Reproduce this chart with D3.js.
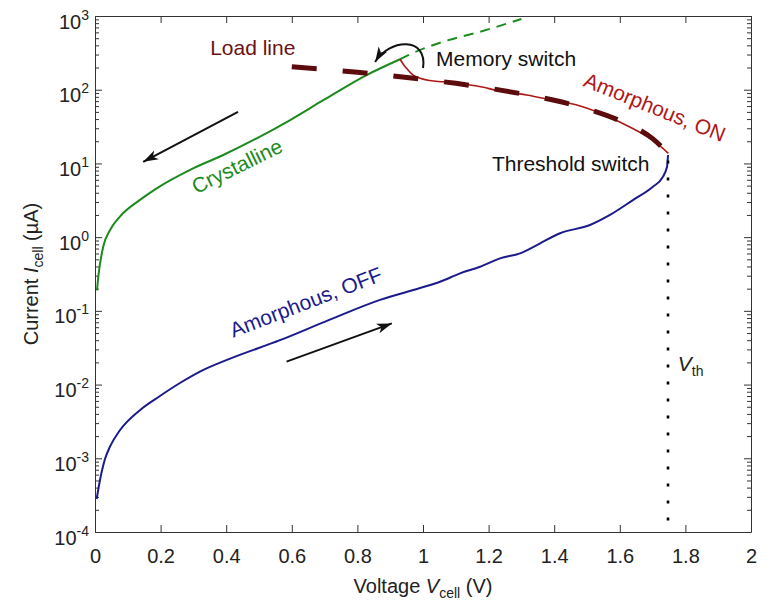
<!DOCTYPE html>
<html>
<head>
<meta charset="utf-8">
<script src="https://cdn.jsdelivr.net/npm/d3@7"></script>
<style>
  body { margin: 0; background: #fff; }
  text { font-family: "Liberation Sans", Arial, sans-serif; fill: #222; }
  .axis path, .axis line { stroke: #333; stroke-width: 1; }
</style>
</head>
<body>
<svg id="chart" width="769" height="600"></svg>
<script>
// --- Data (V in volts, I in µA) ---
const voltTicks = [0, 0.2, 0.4, 0.6, 0.8, 1, 1.2, 1.4, 1.6, 1.8, 2];
const decades = [-4, -3, -2, -1, 0, 1, 2, 3];

const amorphousOff = [
  [0.005, 2.8e-4], [0.015, 5.0e-4], [0.030, 9.6e-4], [0.046, 1.45e-3], [0.076, 2.4e-3],
  [0.137, 4.5e-3], [0.198, 7.0e-3], [0.259, 1.05e-2], [0.320, 1.5e-2], [0.412, 2.25e-2],
  [0.564, 4.0e-2], [0.716, 7.6e-2], [0.869, 0.141], [0.991, 0.204], [1.052, 0.248],
  [1.113, 0.323], [1.174, 0.396], [1.235, 0.515], [1.296, 0.603], [1.357, 0.824],
  [1.418, 1.13], [1.509, 1.46], [1.570, 2.0], [1.640, 3.18], [1.701, 4.83],
  [1.729, 6.34], [1.744, 9.0], [1.747, 13.0]
];

const crystalline = [
  [0.006, 0.19], [0.010, 0.29], [0.025, 0.74], [0.046, 1.25], [0.076, 1.9],
  [0.137, 3.2], [0.188, 4.6], [0.290, 8.2], [0.391, 13.0], [0.493, 21.9],
  [0.595, 38.8], [0.696, 72], [0.828, 158], [0.930, 259]
];

const crystallineExt = [
  [0.930, 259], [0.970, 316], [1.070, 460], [1.174, 612], [1.300, 910]
];

const amorphousOn = [
  [0.930, 259], [0.942, 215], [0.950, 195], [0.970, 158], [0.991, 143],
  [1.021, 133], [1.062, 128], [1.164, 112], [1.245, 94], [1.316, 85],
  [1.397, 72], [1.469, 62], [1.540, 48], [1.641, 29.5], [1.702, 20.5], [1.748, 13.7]
];

const loadLine = [
  [0.60, 205], [0.70, 188], [0.80, 172], [0.90, 155], [1.00, 138], [1.10, 122],
  [1.20, 105], [1.30, 88], [1.40, 72], [1.50, 55], [1.60, 38], [1.70, 21.7], [1.747, 13.8]
];

const vth = 1.747;

// --- Layout ---
const width = 769, height = 600;
const margin = { top: 16, right: 18, bottom: 68, left: 95 };
const x0 = margin.left, x1 = width - margin.right;
const y0 = height - margin.bottom, y1 = margin.top;

const svg = d3.select("#chart");
const x = d3.scaleLinear().domain([0, 2]).range([x0, x1]);
const y = d3.scaleLog().domain([1e-4, 1e3]).range([y0, y1]);

const majors = decades.map(p => Math.pow(10, p));
const minors = [];
decades.slice(0, -1).forEach(p => { for (let k = 2; k <= 9; k++) minors.push(k * Math.pow(10, p)); });

const defs = svg.append("defs");
defs.append("marker").attr("id", "head").attr("viewBox", "0 -6 16 12")
  .attr("refX", 15).attr("refY", 0).attr("markerWidth", 16).attr("markerHeight", 12)
  .attr("markerUnits", "userSpaceOnUse").attr("orient", "auto")
  .append("path").attr("d", "M0,-5 L15,0 L0,5 L4,0 Z").attr("fill", "#111");

// --- Axes (ticks point inward) ---
const fmtV = d => String(+d.toFixed(1));
svg.append("g").attr("class", "axis").attr("transform", `translate(0,${y0})`)
  .call(d3.axisBottom(x).tickValues(voltTicks).tickSizeInner(-7).tickSizeOuter(0).tickPadding(17).tickFormat(fmtV))
  .call(g => g.selectAll("text").attr("font-size", 20).attr("fill", "#222"));
svg.append("g").attr("class", "axis").attr("transform", `translate(0,${y1})`)
  .call(d3.axisTop(x).tickValues(voltTicks).tickSizeInner(-7).tickSizeOuter(0).tickFormat(""));

[[d3.axisLeft, x0], [d3.axisRight, x1]].forEach(([ax, px]) => {
  svg.append("g").attr("class", "axis").attr("transform", `translate(${px},0)`)
    .call(ax(y).tickValues(majors).tickSizeInner(-7).tickSizeOuter(0).tickFormat(""));
  svg.append("g").attr("class", "axis").attr("transform", `translate(${px},0)`)
    .call(ax(y).tickValues(minors).tickSizeInner(-4).tickSizeOuter(0).tickFormat(""))
    .call(g => g.select(".domain").remove());
});

// y tick labels as 10^n
decades.forEach(p => {
  const t = svg.append("text").attr("x", x0 - 6).attr("y", y(Math.pow(10, p)) + 12.5)
    .attr("text-anchor", "end").attr("font-size", 20);
  t.append("tspan").text("10");
  t.append("tspan").attr("dy", -9).attr("font-size", 14).text(String(p));
});

// axis titles
const xl = svg.append("text").attr("x", (x0 + x1) / 2).attr("y", 593)
  .attr("text-anchor", "middle").attr("font-size", 20);
xl.append("tspan").text("Voltage ");
xl.append("tspan").attr("font-style", "italic").text("V");
xl.append("tspan").attr("dy", 5).attr("font-size", 14).text("cell");
xl.append("tspan").attr("dy", -5).text(" (V)");

const yl = svg.append("text").attr("transform", `translate(38,${(y0 + y1) / 2}) rotate(-90)`)
  .attr("text-anchor", "middle").attr("font-size", 20);
yl.append("tspan").text("Current ");
yl.append("tspan").attr("font-style", "italic").text("I");
yl.append("tspan").attr("dy", 5).attr("font-size", 14).text("cell");
yl.append("tspan").attr("dy", -5).text(" (µA)");

// --- Curves ---
const line = d3.line().x(d => x(d[0])).y(d => y(d[1])).curve(d3.curveMonotoneX);

svg.append("path").datum(amorphousOff).attr("d", line)
  .attr("fill", "none").attr("stroke", "#1b1b8c").attr("stroke-width", 2);
svg.append("path").datum(crystalline).attr("d", line)
  .attr("fill", "none").attr("stroke", "#1d8a1d").attr("stroke-width", 2);
svg.append("path").datum(crystallineExt).attr("d", line)
  .attr("fill", "none").attr("stroke", "#1d8a1d").attr("stroke-width", 2).attr("stroke-dasharray", "10,7");
svg.append("path").datum(amorphousOn).attr("d", line)
  .attr("fill", "none").attr("stroke", "#b01818").attr("stroke-width", 1.6);
svg.append("path").datum(loadLine).attr("d", line)
  .attr("fill", "none").attr("stroke", "#5c0c0c").attr("stroke-width", 5).attr("stroke-dasharray", "25,26");

// threshold voltage marker
svg.append("line").attr("x1", x(vth)).attr("x2", x(vth)).attr("y1", y(11)).attr("y2", y(1e-4))
  .attr("stroke", "#000").attr("stroke-width", 2.6).attr("stroke-dasharray", "3,14");

// --- Arrows ---
function arrow(a, b) {
  svg.append("line").attr("x1", x(a[0])).attr("y1", y(a[1])).attr("x2", x(b[0])).attr("y2", y(b[1]))
    .attr("stroke", "#111").attr("stroke-width", 2).attr("marker-end", "url(#head)");
}
arrow([0.436, 50], [0.147, 10.5]);
arrow([0.584, 0.0205], [0.905, 0.0676]);

const cs = [x(1.0), y(197)], ce = [x(0.854), y(238)];
svg.append("path")
  .attr("d", `M${cs[0]},${cs[1]} C${cs[0] + 5},${cs[1] - 32} ${ce[0] + 14},${ce[1] - 23} ${ce[0]},${ce[1]}`)
  .attr("fill", "none").attr("stroke", "#111").attr("stroke-width", 2).attr("marker-end", "url(#head)");

// --- Annotations ---
function label(txt, v, i, color, opts = {}) {
  const t = svg.append("text").attr("font-size", 21).style("fill", color).text(txt);
  if (opts.angle !== undefined) {
    t.attr("text-anchor", "middle").attr("dy", "0.35em")
      .attr("transform", `translate(${x(v)},${y(i)}) rotate(${opts.angle})`);
  } else {
    t.attr("x", x(v)).attr("y", y(i));
  }
  return t;
}
label("Load line", 0.351, 296, "#6b1212");
label("Memory switch", 1.04, 210, "#111");
label("Threshold switch", 1.21, 7.96, "#111");
label("Amorphous, ON", 1.707, 58, "#b01818", { angle: 22 });
label("Crystalline", 0.433, 9.2, "#1d8a1d", { angle: -26 });
label("Amorphous, OFF", 0.643, 0.1315, "#1b1b8c", { angle: -21 });

const vt = svg.append("text").attr("x", x(1.777)).attr("y", y(0.0152)).attr("font-size", 21);
vt.append("tspan").attr("font-style", "italic").text("V");
vt.append("tspan").attr("dy", 5).attr("font-size", 14).text("th");
</script>
</body>
</html>
